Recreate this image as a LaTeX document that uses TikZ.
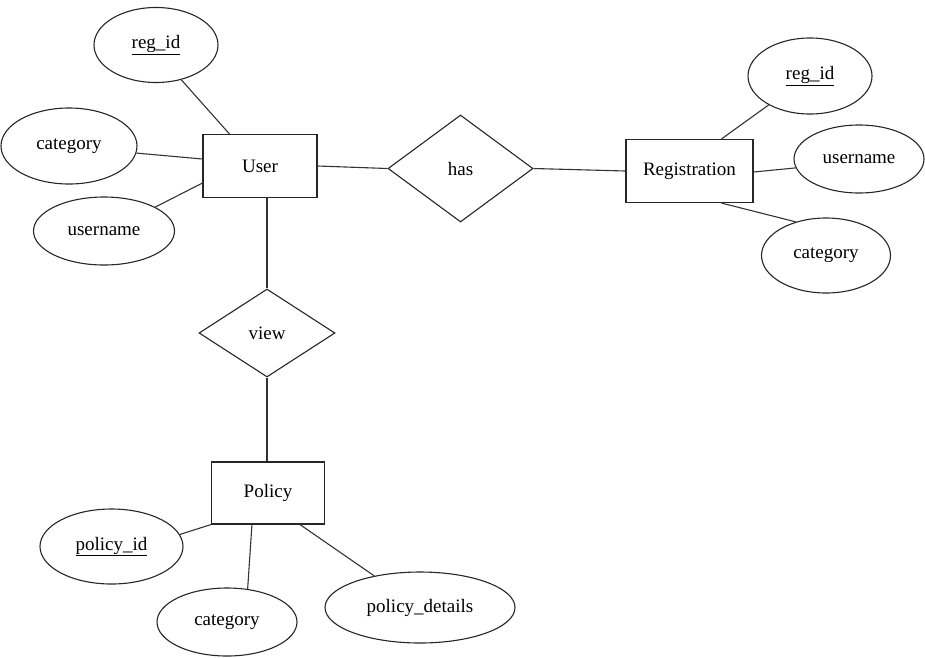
\documentclass[tikz,border=0pt]{standalone}
\usepackage{fontspec}
\setmainfont{Liberation Serif}
\usetikzlibrary{shapes.geometric,calc}
\tikzset{
  er/.style={draw=black!85, line width=1.1pt},
  entity/.style={er, rectangle, minimum width=114pt, minimum height=63pt, inner sep=0pt},
  attr/.style={er, ellipse, inner sep=0pt},
  rel/.style={er, diamond, inner sep=0pt},
  link/.style={draw=black!80, line width=1.1pt}
}
\begin{document}
\begin{tikzpicture}[x=1pt, y=-1pt, font=\fontsize{19}{22}\selectfont]
\useasboundingbox (0,0) rectangle (925,657);
% entities
\node[entity] (u) at (260,166) {User};
\node[entity, minimum width=127pt] (reg) at (689.5,171) {Registration};
\node[entity, minimum width=113pt, minimum height=62pt] (pol) at (268,493) {Policy};
% relationships
\node[rel, minimum width=145pt, minimum height=107pt] (has) at (460.5,168.5) {has};
\node[rel, minimum width=136pt, minimum height=88pt] (view) at (267,333) {view};
% attributes of User
\node[attr, minimum width=124pt, minimum height=75pt] (ri) at (156,45) {\underline{reg\_id}};
\node[attr, minimum width=136pt, minimum height=76pt] (cat) at (69,146) {category};
\node[attr, minimum width=141pt, minimum height=68pt] (un) at (104,231) {username};
% attributes of Registration
\node[attr, minimum width=124pt, minimum height=76pt] (rri) at (810,76) {\underline{reg\_id}};
\node[attr, minimum width=130pt, minimum height=68pt] (run) at (859,159) {username};
\node[attr, minimum width=129pt, minimum height=75pt] (rcat) at (826,255.5) {category};
% attributes of Policy
\node[attr, minimum width=143pt, minimum height=75pt] (pid) at (111.5,546.5) {\underline{policy\_id}};
\node[attr, minimum width=140pt, minimum height=68pt] (pcat) at (227,622) {category};
\node[attr, minimum width=190pt, minimum height=71pt] (pd) at (420,607.5) {policy\_details};
% connectors
\draw[link] (ri.-54) -- ($(u.north west)+(27,0)$);
\draw[link] (cat.-6) -- ($(u.west)+(0,-7)$);
\draw[link] (un.25) -- ($(u.west)+(0,17)$);
\draw[link] (u.east) -- (has.west);
\draw[link] (has.east) -- (reg.west);
\draw[link] (rri.-145) -- ($(reg.north west)+(96,0)$);
\draw[link] ($(reg.east)+(0,1)$) -- (run.188);
\draw[link] ($(reg.south west)+(96,0)$) -- (rcat.132);
\draw[link] ($(u.south)+(7,0)$) -- (view.north);
\draw[link] (view.south) -- ($(pol.north)+(-1,0)$);
\draw[link] (pol.south west) -- (pid.10);
\draw[link] ($(pol.south west)+(41,0)$) -- (pcat.58);
\draw[link] ($(pol.south west)+(89,0)$) -- (pd);
\end{tikzpicture}
\end{document}
